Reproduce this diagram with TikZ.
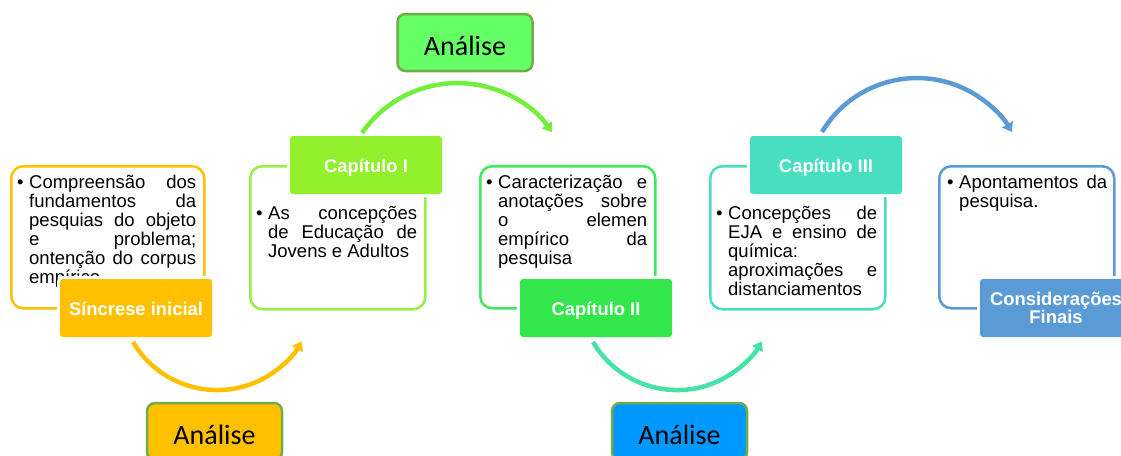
\documentclass[tikz,border=0pt]{standalone}
\usepackage{fontspec}
\setmainfont{Liberation Sans}
\newfontfamily\calib{Carlito}
\usetikzlibrary{arrows.meta}
\definecolor{cyel}{HTML}{FFC000}
\definecolor{climehdr}{HTML}{91EF2C}
\definecolor{climebox}{HTML}{99EE44}
\definecolor{climearc}{HTML}{70F03C}
\definecolor{cgreenhdr}{HTML}{32E64B}
\definecolor{cgreenbox}{HTML}{40E860}
\definecolor{ctealarc}{HTML}{45E3A5}
\definecolor{cteal}{HTML}{48DFC0}
\definecolor{cblue}{HTML}{5B9BD5}
\definecolor{canafill}{HTML}{66FF66}
\definecolor{canablue}{HTML}{0099FF}
\definecolor{canaborder}{HTML}{70AD47}
\newcommand\Bul{\llap{\textbullet\hspace{5.5pt}}}
\newcommand\JLine[1]{\makebox[\linewidth][s]{#1}\\}
\begin{document}
\begin{tikzpicture}[x=1pt,y=-1pt,
  outbox/.style={line width=2.5pt, rounded corners=12pt, inner sep=0pt, anchor=north west},
  bodytxt/.style={anchor=base west, inner sep=0pt, font=\fontsize{18.5}{19}\selectfont},
  hdr/.style={rounded corners=3pt, text=white, font=\bfseries\fontsize{18.4}{18}\selectfont,
    minimum width=152pt, minimum height=58pt, inner sep=0pt, text height=14pt, text depth=0pt,
    preaction={draw=white, line width=6pt}},
  flowarc/.style={line width=4.5pt, -{Triangle[length=9pt,width=12pt]}},
  anabox/.style={draw=canaborder, line width=2.5pt, rounded corners=8pt, minimum width=135pt,
    minimum height=57pt, inner sep=0pt, font=\calib\fontsize{28}{30}\selectfont,
    text height=26pt, text depth=0pt}]
\useasboundingbox (0,0) rectangle (1121,455);
\clip (0,0) rectangle (1121,455);
% outline boxes
\node[outbox, draw=cyel, minimum width=193pt, minimum height=142pt] (b1) at (10,165) {};
\node[outbox, draw=climebox, minimum width=175pt, minimum height=143pt] (b2) at (249,165) {};
\node[outbox, draw=cgreenbox, minimum width=175pt, minimum height=142pt] (b3) at (479,165) {};
\node[outbox, draw=cteal, minimum width=175pt, minimum height=143pt] (b4) at (709,165) {};
\node[outbox, draw=cblue, minimum width=175pt, minimum height=142pt] (b5) at (938,165) {};
% body texts
\node[bodytxt] (t1) at (29,188) {\parbox[t]{167pt}{%
  \JLine{\Bul Compreensão dos}\JLine{fundamentos da}\JLine{pesquias do objeto}%
  \JLine{e problema;}\JLine{ontenção do corpus}empírico}};
\node[bodytxt] (t2) at (268,219) {\parbox[t]{149pt}{%
  \JLine{\Bul As concepções}\JLine{de Educação de}Jovens e Adultos}};
\node[bodytxt] (t3) at (498,188) {\parbox[t]{149pt}{%
  \JLine{\Bul Caracterização e}\JLine{anotações sobre}\JLine{o elemen}%
  \JLine{empírico da}pesquisa}};
\node[bodytxt] (t4) at (728,219) {\parbox[t]{149pt}{%
  \JLine{\Bul Concepções de}\JLine{EJA e ensino de}química:\\%
  \JLine{aproximações e}distanciamentos}};
\node[bodytxt] (t5) at (959,188) {\parbox[t]{148pt}{%
  \JLine{\Bul Apontamentos da}pesquisa.}};
% headers
\node[hdr, fill=cyel] (h1) at (136,308) {Síncrese inicial};
\node[hdr, fill=climehdr] (h2) at (366,165) {Capítulo I};
\node[hdr, fill=cgreenhdr] (h3) at (596,308) {Capítulo II};
\node[hdr, fill=cteal] (h4) at (826,165) {Capítulo III};
\node[hdr, fill=cblue, text height=30pt] (h5) at (1056,308)
  {\parbox[b]{150pt}{\centering Considerações\\Finais}};
% arcs
\coordinate (a1) at (133,342);
\coordinate (a2) at (362,133);
\coordinate (a3) at (593,342);
\coordinate (a4) at (822,132);
\draw[flowarc, cyel] (a1) arc[start angle=149.4, end angle=30.1, radius=97.9];
\draw[flowarc, climearc] (a2) arc[start angle=214.7, end angle=324.8, radius=115.9];
\draw[flowarc, ctealarc] (a3) arc[start angle=149.4, end angle=30.1, radius=97.9];
\draw[flowarc, cblue] (a4) arc[start angle=210.8, end angle=329.2, radius=110.6];
% analysis boxes
\node[anabox, fill=canafill] (n1) at (465,42.5) {Análise};
\node[anabox, fill=cyel] (n2) at (214.5,431.5) {Análise};
\node[anabox, fill=canablue] (n3) at (679.5,431.5) {Análise};
\end{tikzpicture}
\end{document}
